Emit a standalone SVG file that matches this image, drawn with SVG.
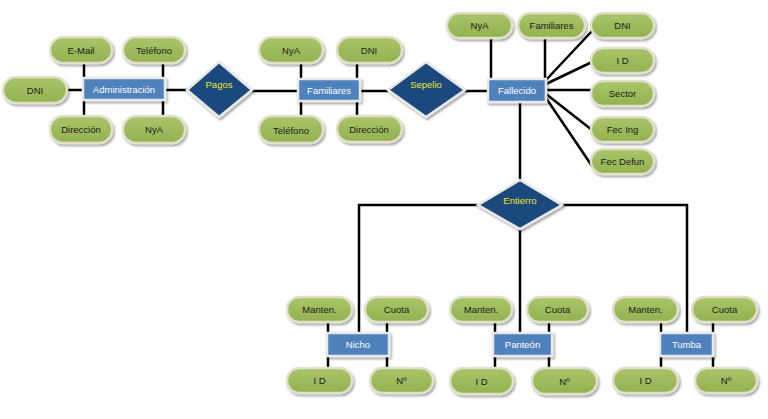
<svg xmlns="http://www.w3.org/2000/svg" width="768" height="419" viewBox="0 0 768 419">
<defs>
<filter id="sh" x="-20%" y="-30%" width="150%" height="180%">
<feDropShadow dx="1.5" dy="2" stdDeviation="1.2" flood-color="#000" flood-opacity="0.35"/>
</filter>
<linearGradient id="gg" x1="0" y1="0" x2="0" y2="1">
<stop offset="0" stop-color="#A9C66A"/>
<stop offset="1" stop-color="#92B150"/>
</linearGradient>
</defs>
<style>
.at{fill:url(#gg);stroke:#E2DFCB;stroke-width:2.5;filter:url(#sh)}
.en{fill:#4F81BD;stroke:#E8E8E8;stroke-width:2.5;filter:url(#sh)}
.re{fill:#1F497D;stroke:#E8E8E8;stroke-width:2.5;filter:url(#sh)}
.ta{font-family:"Liberation Sans",Arial,sans-serif;font-size:9.5px;fill:#1A1A1A;text-anchor:middle;dominant-baseline:central}
.te{font-family:"Liberation Sans",Arial,sans-serif;font-size:9.5px;fill:#FFFFFF;text-anchor:middle;dominant-baseline:central}
.tr{font-family:"Liberation Sans",Arial,sans-serif;font-size:9.5px;fill:#E8E82A;text-anchor:middle;dominant-baseline:central}
.ln{stroke:#000;stroke-width:2.5;fill:none}
</style>
<rect width="768" height="419" fill="#FFFFFF"/>
<g id="connectors" class="ln">
<line x1="67" y1="90" x2="84" y2="90"/>
<line x1="84" y1="63" x2="84" y2="78"/>
<line x1="163" y1="63" x2="163" y2="78"/>
<line x1="84" y1="100" x2="84" y2="116"/>
<line x1="163" y1="100" x2="163" y2="116"/>
<line x1="165" y1="90" x2="188" y2="90"/>
<line x1="252" y1="91" x2="298" y2="91"/>
<line x1="301" y1="63" x2="301" y2="79"/>
<line x1="357" y1="63" x2="357" y2="79"/>
<line x1="301" y1="101" x2="301" y2="116"/>
<line x1="357" y1="101" x2="357" y2="116"/>
<line x1="360" y1="91" x2="388" y2="91"/>
<line x1="465" y1="91" x2="488" y2="91"/>
<line x1="491" y1="38" x2="491" y2="79"/>
<line x1="545" y1="38" x2="545" y2="79"/>
<line x1="546" y1="80" x2="592" y2="31"/>
<line x1="546" y1="84" x2="592" y2="62"/>
<line x1="546" y1="90" x2="592" y2="90"/>
<line x1="546" y1="94" x2="592" y2="130"/>
<line x1="546" y1="98" x2="592" y2="166"/>
<line x1="520" y1="102" x2="520" y2="181"/>
<polyline points="359,334 359,205 687,205 687,334"/>
<line x1="520" y1="228" x2="520" y2="333"/>
<line x1="328" y1="322" x2="328" y2="333"/>
<line x1="387" y1="322" x2="387" y2="333"/>
<line x1="328" y1="356" x2="328" y2="368"/>
<line x1="387" y1="356" x2="387" y2="368"/>
<line x1="495" y1="322" x2="495" y2="333"/>
<line x1="549" y1="322" x2="549" y2="333"/>
<line x1="495" y1="356" x2="495" y2="368"/>
<line x1="549" y1="356" x2="549" y2="368"/>
<line x1="661" y1="322" x2="661" y2="333"/>
<line x1="713" y1="322" x2="713" y2="333"/>
<line x1="661" y1="356" x2="661" y2="368"/>
<line x1="713" y1="356" x2="713" y2="368"/>
</g>
<g id="admin"><rect class="en" x="83" y="78" width="82" height="22"/><text class="te" x="124" y="89">Administración</text></g>
<g id="admin-email"><rect class="at" x="50" y="37" width="62" height="26" rx="13"/><text class="ta" x="81" y="50">E-Mail</text></g>
<g id="admin-tel"><rect class="at" x="123" y="37" width="62" height="26" rx="13"/><text class="ta" x="154" y="50">Teléfono</text></g>
<g id="admin-dni"><rect class="at" x="3" y="77" width="64" height="26" rx="13"/><text class="ta" x="35" y="90">DNI</text></g>
<g id="admin-dir"><rect class="at" x="50" y="116" width="62" height="27" rx="13"/><text class="ta" x="81" y="129.5">Dirección</text></g>
<g id="admin-nya"><rect class="at" x="123" y="116" width="62" height="27" rx="13"/><text class="ta" x="154" y="129.5">NyA</text></g>
<g id="pagos"><polygon class="re" points="219,62 252,90 219,117 187,90"/><text class="tr" x="219" y="84">Pagos</text></g>
<g id="familiares"><rect class="en" x="298" y="79" width="62" height="22"/><text class="te" x="329" y="90">Familiares</text></g>
<g id="fam-nya"><rect class="at" x="259" y="37" width="64" height="26" rx="13"/><text class="ta" x="291" y="50">NyA</text></g>
<g id="fam-dni"><rect class="at" x="337" y="37" width="65" height="26" rx="13"/><text class="ta" x="369" y="50">DNI</text></g>
<g id="fam-tel"><rect class="at" x="259" y="116" width="64" height="27" rx="13"/><text class="ta" x="291" y="130">Teléfono</text></g>
<g id="fam-dir"><rect class="at" x="337" y="116" width="65" height="26" rx="13"/><text class="ta" x="369" y="129">Dirección</text></g>
<g id="sepelio"><polygon class="re" points="426,62 465,90 426,117 388,90"/><text class="tr" x="426" y="84">Sepelio</text></g>
<g id="fallecido"><rect class="en" x="488" y="79" width="58" height="23"/><text class="te" x="517" y="90.5">Fallecido</text></g>
<g id="fal-nya"><rect class="at" x="447" y="13" width="65" height="25" rx="12.5"/><text class="ta" x="479.5" y="25.5">NyA</text></g>
<g id="fal-fam"><rect class="at" x="518" y="13" width="67" height="25" rx="12.5"/><text class="ta" x="551.5" y="25.5">Familiares</text></g>
<g id="fal-dni"><rect class="at" x="591" y="13" width="63" height="25" rx="12.5"/><text class="ta" x="622.5" y="25.5">DNI</text></g>
<g id="fal-id"><rect class="at" x="591" y="48" width="63" height="25" rx="12.5"/><text class="ta" x="622.5" y="60.5">I D</text></g>
<g id="fal-sector"><rect class="at" x="591" y="81" width="63" height="25" rx="12.5"/><text class="ta" x="622.5" y="93.5">Sector</text></g>
<g id="fal-fecing"><rect class="at" x="591" y="117" width="63" height="25" rx="12.5"/><text class="ta" x="622.5" y="129.5">Fec Ing</text></g>
<g id="fal-fecdef"><rect class="at" x="591" y="149" width="63" height="25" rx="12.5"/><text class="ta" x="622.5" y="161.5">Fec Defun</text></g>
<g id="entierro"><polygon class="re" points="520,180 562,205 520,229 478,205"/><text class="tr" x="520" y="200">Entierro</text></g>
<g id="nicho"><rect class="en" x="327" y="333" width="62" height="23"/><text class="te" x="358" y="344.5">Nicho</text></g>
<g id="nicho-mant"><rect class="at" x="287" y="297" width="65" height="25" rx="12.5"/><text class="ta" x="319.5" y="309.5">Manten.</text></g>
<g id="nicho-cuota"><rect class="at" x="365" y="297" width="63" height="25" rx="12.5"/><text class="ta" x="396.5" y="309.5">Cuota</text></g>
<g id="nicho-id"><rect class="at" x="287" y="368" width="65" height="25" rx="12.5"/><text class="ta" x="319.5" y="380.5">I D</text></g>
<g id="nicho-num"><rect class="at" x="370" y="368" width="63" height="25" rx="12.5"/><text class="ta" x="401.5" y="380.5">Nº</text></g>
<g id="panteon"><rect class="en" x="493" y="333" width="59" height="23"/><text class="te" x="522.5" y="344.5">Panteón</text></g>
<g id="pant-mant"><rect class="at" x="450" y="297" width="62" height="25" rx="12.5"/><text class="ta" x="481" y="309.5">Manten.</text></g>
<g id="pant-cuota"><rect class="at" x="527" y="297" width="61" height="25" rx="12.5"/><text class="ta" x="557.5" y="309.5">Cuota</text></g>
<g id="pant-id"><rect class="at" x="450" y="368" width="63" height="26" rx="13"/><text class="ta" x="481.5" y="381">I D</text></g>
<g id="pant-num"><rect class="at" x="532" y="368" width="65" height="26" rx="13"/><text class="ta" x="564.5" y="381">Nº</text></g>
<g id="tumba"><rect class="en" x="660" y="333" width="53" height="23"/><text class="te" x="686.5" y="344.5">Tumba</text></g>
<g id="tumba-mant"><rect class="at" x="613" y="297" width="65" height="25" rx="12.5"/><text class="ta" x="645.5" y="309.5">Manten.</text></g>
<g id="tumba-cuota"><rect class="at" x="692" y="297" width="65" height="25" rx="12.5"/><text class="ta" x="724.5" y="309.5">Cuota</text></g>
<g id="tumba-id"><rect class="at" x="613" y="368" width="65" height="25" rx="12.5"/><text class="ta" x="645.5" y="380.5">I D</text></g>
<g id="tumba-num"><rect class="at" x="695" y="368" width="62" height="25" rx="12.5"/><text class="ta" x="726" y="380.5">Nº</text></g>
</svg>
